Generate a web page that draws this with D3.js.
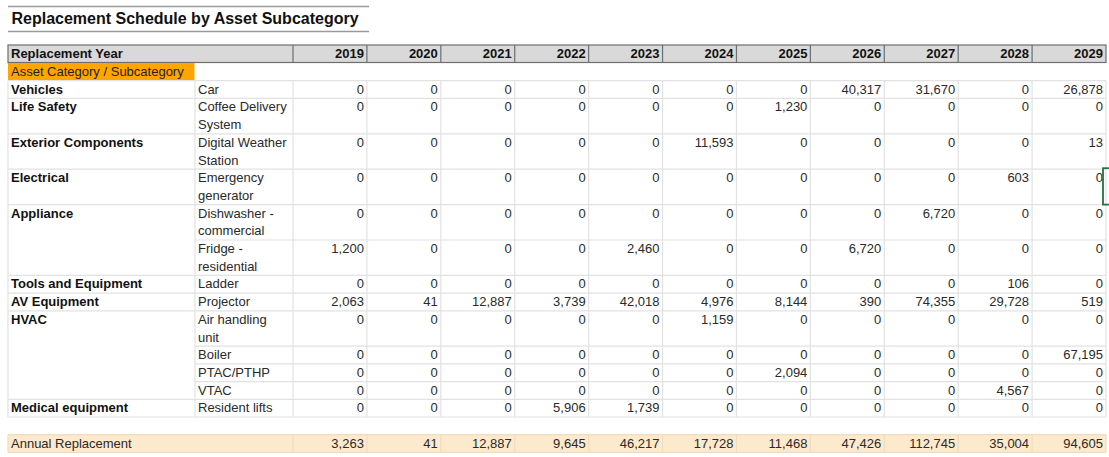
<!DOCTYPE html>
<html>
<head>
<meta charset="utf-8">
<script src="https://cdn.jsdelivr.net/npm/d3@7"></script>
<style>
  html, body { margin: 0; padding: 0; background: #fff; }
  svg { display: block; font-family: Arial, "Liberation Sans", sans-serif; }
</style>
</head>
<body>
<svg id="chart" width="1109" height="457"></svg>
<script>
// ---- data ----
const title = "Replacement Schedule by Asset Subcategory";
const headerLabel = "Replacement Year";
const sectionLabel = "Asset Category / Subcategory";
const totalLabel = "Annual Replacement";
const years = ["2019","2020","2021","2022","2023","2024","2025","2026","2027","2028","2029"];
const categories = ["Vehicles","Life Safety","Exterior Components","Electrical","Appliance","Appliance",
  "Tools and Equipment","AV Equipment","HVAC","HVAC","HVAC","HVAC","Medical equipment"];
const subcategories = [["Car"],["Coffee Delivery","System"],["Digital Weather","Station"],
  ["Emergency","generator"],["Dishwasher -","commercial"],["Fridge -","residential"],
  ["Ladder"],["Projector"],["Air handling","unit"],["Boiler"],["PTAC/PTHP"],["VTAC"],["Resident lifts"]];
const car          = [0,0,0,0,0,0,0,40317,31670,0,26878];
const coffee       = [0,0,0,0,0,0,1230,0,0,0,0];
const weather      = [0,0,0,0,0,11593,0,0,0,0,13];
const generator    = [0,0,0,0,0,0,0,0,0,603,0];
const dishwasher   = [0,0,0,0,0,0,0,0,6720,0,0];
const fridge       = [1200,0,0,0,2460,0,0,6720,0,0,0];
const ladder       = [0,0,0,0,0,0,0,0,0,106,0];
const projector    = [2063,41,12887,3739,42018,4976,8144,390,74355,29728,519];
const airHandling  = [0,0,0,0,0,1159,0,0,0,0,0];
const boiler       = [0,0,0,0,0,0,0,0,0,0,67195];
const ptac         = [0,0,0,0,0,0,2094,0,0,0,0];
const vtac         = [0,0,0,0,0,0,0,0,0,4567,0];
const residentLifts= [0,0,0,5906,1739,0,0,0,0,0,0];
const annual       = [3263,41,12887,9645,46217,17728,11468,47426,112745,35004,94605];
const seriesValues = [car,coffee,weather,generator,dishwasher,fridge,ladder,projector,airHandling,boiler,ptac,vtac,residentLifts];

// ---- layout ----
const svg = d3.select("#chart");
const fmt = d3.format(",");
const X0 = 8, XB = 195, XY = 293, XR = 1106;
const x = d3.scaleBand().domain(years).range([XY, XR]).paddingInner(0).paddingOuter(0);
// build row table: units of line height
let u = 1; // unit 0 = section row
const rows = categories.map((c, i) => {
  const r = {cat: c, sub: subcategories[i], vals: seriesValues[i], start: u, n: subcategories[i].length,
    first: i === 0 || categories[i-1] !== c};
  u += r.n;
  return r;
});
const bodyEndUnit = u;           // 20
const blankUnit = u;             // blank row
const totalUnit = u + 1;         // annual row
const y = d3.scaleLinear().domain([0, totalUnit + 1]).range([63, 63 + 17.7 * (totalUnit + 1)]);
const BASE = 13;
const FS = 13;

// ---- title ----
svg.append("line").attr("x1", X0).attr("x2", 369).attr("y1", 6.5).attr("y2", 6.5)
  .attr("stroke", "#9a9a9a").attr("stroke-width", 1.3);
svg.append("line").attr("x1", X0).attr("x2", 369).attr("y1", 31.5).attr("y2", 31.5)
  .attr("stroke", "#9a9a9a").attr("stroke-width", 1.3);
svg.append("text").attr("x", 11.5).attr("y", 23.5).attr("font-size", 16).attr("font-weight", "bold")
  .attr("fill", "#111").text(title);

// ---- header row ----
const hTop = 45, hBot = 62.5;
svg.append("rect").attr("x", X0).attr("y", hTop).attr("width", XR - X0).attr("height", hBot - hTop)
  .attr("fill", "#d9d9d9").attr("stroke", "#6e6e6e").attr("stroke-width", 1.2);
svg.selectAll(".hv").data(years).join("line")
  .attr("x1", d => x(d)).attr("x2", d => x(d)).attr("y1", hTop).attr("y2", hBot)
  .attr("stroke", "#6e6e6e").attr("stroke-width", 1.2);
svg.append("text").attr("x", 11).attr("y", hTop + 13).attr("font-size", FS).attr("font-weight", "bold")
  .attr("fill", "#111").text(headerLabel);
svg.selectAll(".hy").data(years).join("text")
  .attr("x", d => x(d) + x.bandwidth() - 3).attr("y", hTop + 13).attr("text-anchor", "end")
  .attr("font-size", FS).attr("font-weight", "bold").attr("fill", "#111").text(d => d);

// ---- section row ----
svg.append("rect").attr("x", X0).attr("y", y(0)).attr("width", XB - X0 - 0.5).attr("height", y(1) - y(0))
  .attr("fill", "#ffa500");
svg.append("text").attr("x", 11).attr("y", y(0) + BASE).attr("font-size", FS).attr("fill", "#222")
  .text(sectionLabel);

// ---- body grid ----
const grid = "#e2e2e2";
const g = svg.append("g");
// horizontal lines
rows.forEach(r => {
  g.append("line").attr("x1", r.first ? X0 : XB).attr("x2", XR)
    .attr("y1", y(r.start)).attr("y2", y(r.start)).attr("stroke", grid).attr("stroke-width", 1.2);
});
g.append("line").attr("x1", X0).attr("x2", XR).attr("y1", y(bodyEndUnit)).attr("y2", y(bodyEndUnit))
  .attr("stroke", grid).attr("stroke-width", 1.2);
// vertical lines
const vx = [X0, XB, ...years.map(d => x(d)), XR];
g.selectAll(".vl").data(vx).join("line")
  .attr("x1", d => d).attr("x2", d => d).attr("y1", y(1)).attr("y2", y(bodyEndUnit))
  .attr("stroke", grid).attr("stroke-width", 1.2);

// ---- body text ----
rows.forEach(r => {
  if (r.first) {
    g.append("text").attr("x", 11).attr("y", y(r.start) + BASE).attr("font-size", FS)
      .attr("font-weight", "bold").attr("fill", "#111").text(r.cat);
  }
  r.sub.forEach((s, k) => {
    g.append("text").attr("x", 198).attr("y", y(r.start + k) + BASE).attr("font-size", FS)
      .attr("fill", "#2a2a2a").text(s);
  });
  g.selectAll(null).data(r.vals).join("text")
    .attr("x", (d, j) => x(years[j]) + x.bandwidth() - 3).attr("y", y(r.start) + BASE)
    .attr("text-anchor", "end").attr("font-size", FS).attr("fill", "#2a2a2a").text(d => fmt(d));
});

// ---- annual total row ----
const tTop = y(totalUnit), tBot = y(totalUnit + 1);
svg.append("rect").attr("x", X0).attr("y", tTop).attr("width", XR - X0).attr("height", tBot - tTop)
  .attr("fill", "#fde9cc");
const tg = "#f1dcbc";
svg.append("line").attr("x1", X0).attr("x2", XR).attr("y1", tTop).attr("y2", tTop).attr("stroke", tg).attr("stroke-width", 1.2);
svg.append("line").attr("x1", X0).attr("x2", XR).attr("y1", tBot).attr("y2", tBot).attr("stroke", tg).attr("stroke-width", 1.2);
svg.selectAll(".tv").data([X0, ...years.map(d => x(d)), XR]).join("line")
  .attr("x1", d => d).attr("x2", d => d).attr("y1", tTop).attr("y2", tBot)
  .attr("stroke", tg).attr("stroke-width", 1.2);
svg.append("text").attr("x", 11).attr("y", tTop + BASE).attr("font-size", FS).attr("fill", "#2a2a2a").text(totalLabel);
svg.selectAll(".tt").data(annual).join("text")
  .attr("x", (d, j) => x(years[j]) + x.bandwidth() - 3).attr("y", tTop + BASE)
  .attr("text-anchor", "end").attr("font-size", FS).attr("fill", "#2a2a2a").text(d => fmt(d));

// ---- selected cell indicator (to the right of 2029 / Electrical) ----
const sel = rows[3];
svg.append("rect").attr("x", XR - 3).attr("y", y(sel.start) - 1).attr("width", 20)
  .attr("height", y(sel.start + sel.n) - y(sel.start) + 1)
  .attr("fill", "none").attr("stroke", "#217346").attr("stroke-width", 1.8);
</script>
</body>
</html>
